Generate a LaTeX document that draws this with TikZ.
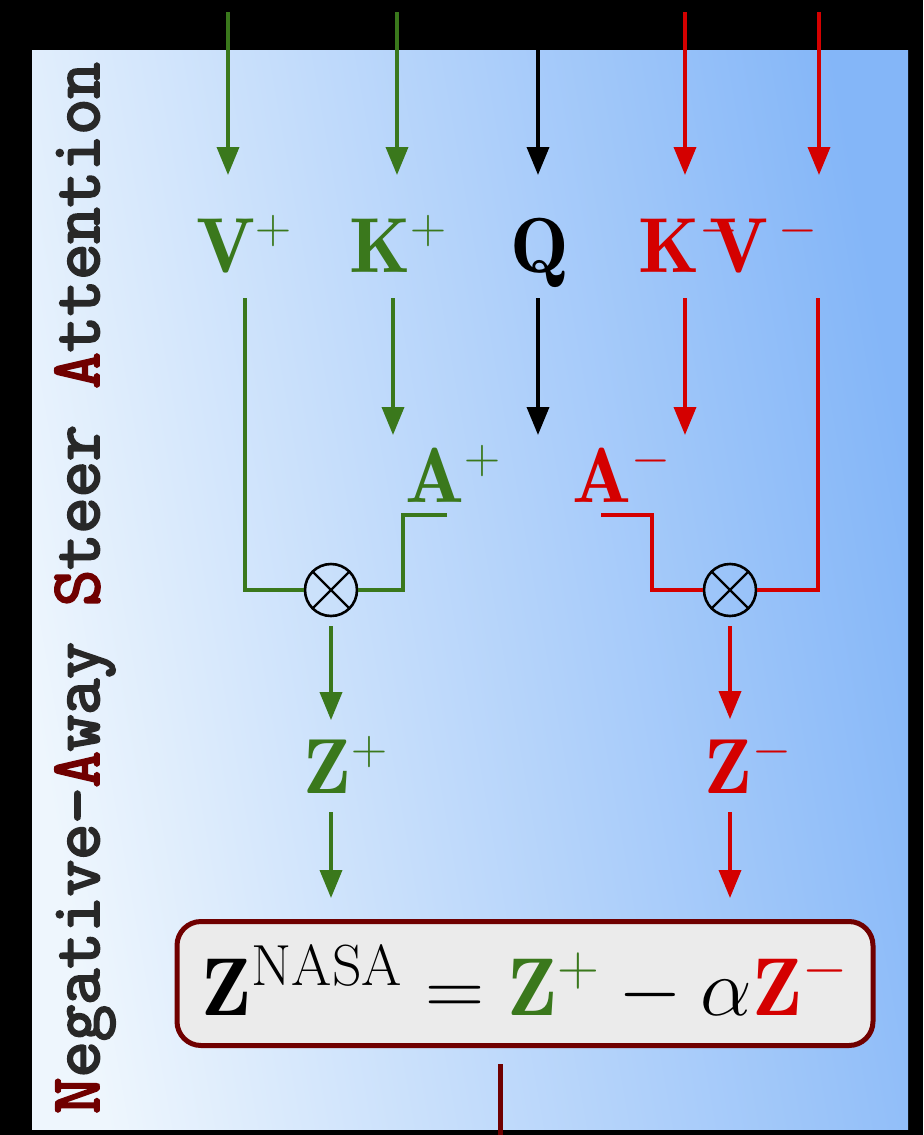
\RequirePackage{fix-cm}
\documentclass[tikz,border=0pt]{standalone}
\usepackage{amsmath}
\usepackage{fontspec}
\newfontfamily\nasaMono[FakeBold=3]{Latin Modern Mono}
\usetikzlibrary{arrows.meta,calc,positioning}
\DeclareMathSizes{39}{39}{25}{18}
\DeclareMathSizes{41}{41}{29}{21}
\definecolor{nasaGreen}{RGB}{58,120,28}
\definecolor{nasaRed}{RGB}{212,0,0}
\definecolor{nasaDark}{RGB}{112,0,0}
\definecolor{panelLight}{RGB}{238,246,253}
\definecolor{panelBlue}{RGB}{132,182,248}
\definecolor{boxFill}{RGB}{235,235,235}
\definecolor{titleGrey}{RGB}{40,40,40}
\tikzset{
  nasaLabel/.style={inner sep=0pt, anchor=base west, font=\fontsize{39}{46}\selectfont},
  nasaArrow/.style={-{Triangle[width=11pt,length=14pt]}, line width=1.8pt},
  nasaWire/.style={line width=2pt},
  nasaMult/.style={draw=black, line width=1.3pt, circle, minimum size=26pt, inner sep=0pt,
    path picture={\draw[line width=1.2pt] (path picture bounding box.north west) -- (path picture bounding box.south east)
      (path picture bounding box.north east) -- (path picture bounding box.south west);}},
  nasaBox/.style={draw=nasaDark, line width=2.5pt, fill=boxFill, rounded corners=12pt,
    minimum width=348pt, minimum height=62pt, inner sep=0pt, font=\fontsize{41}{48}\selectfont}
}

\begin{document}
\begin{tikzpicture}[x=0.5pt, y=-0.5pt]
  \useasboundingbox (0,0) rectangle (923,1135);
  \fill[black] (0,0) rectangle (923,1135);
  \shade[shading=axis, left color=panelLight, right color=panelBlue, shading angle=100] (32,50) rectangle (908,1129);

  % side title
  \node[rotate=90, font=\nasaMono\fontsize{35.2}{40}\selectfont, text=titleGrey] (title) at (85,588)
    {{\color{nasaDark}N}egative-{\color{nasaDark}A}way {\color{nasaDark}S}teer {\color{nasaDark}A}ttention};

  % incoming signals
  \foreach \name/\x/\col in {vp/228/nasaGreen, kp/397/nasaGreen, q/538/black, km/685/nasaRed, vm/819/nasaRed}{
    \coordinate (\name-in) at (\x,12);
    \coordinate (\name-tip) at (\x,175);
    \draw[nasaArrow, color=\col] (\name-in) -- (\name-tip);
  }

  % inputs
  \node[nasaLabel, text=nasaGreen] (vPlus) at (196,272) {$\mathbf{V}^{+}$};
  \node[nasaLabel, text=nasaGreen] (kPlus) at (349,272) {$\mathbf{K}^{+}$};
  \node[nasaLabel] (query) at (510,272) {$\mathbf{Q}$};
  \node[nasaLabel, text=nasaRed] (kvMinus) at (638,272) {$\mathbf{K}^{-}\kern-15pt\mathbf{V}^{\kern5pt-}$};

  % attention maps
  \foreach \name/\x/\col in {kp/393/nasaGreen, q/538/black, km/685/nasaRed}{
    \coordinate (\name-out) at (\x,298);
    \coordinate (\name-att) at (\x,435);
    \draw[nasaArrow, color=\col] (\name-out) -- (\name-att);
  }
  \node[nasaLabel, text=nasaGreen] (aPlus) at (405,502) {$\mathbf{A}^{+}$};
  \node[nasaLabel, text=nasaRed] (aMinus) at (572,502) {$\mathbf{A}^{-}$};

  % products
  \node[nasaMult] (multPlus) at (331,590) {};
  \node[nasaMult] (multMinus) at (730,590) {};
  \coordinate (vp-out) at (245,298);
  \coordinate (vm-out) at (818,298);
  \coordinate (ap-out) at (447,515);
  \coordinate (am-out) at (601,515);
  \draw[nasaWire, nasaGreen] (vp-out) |- (multPlus.west);
  \draw[nasaWire, nasaRed] (vm-out) |- (multMinus.east);
  \draw[nasaWire, nasaGreen] (ap-out) -- ++(-44,0) |- (multPlus.east);
  \draw[nasaWire, nasaRed] (am-out) -- ++(51,0) |- (multMinus.west);

  % outputs
  \node[nasaLabel, text=nasaGreen] (zPlus) at (303,793) {$\mathbf{Z}^{+}$};
  \node[nasaLabel, text=nasaRed] (zMinus) at (704,793) {$\mathbf{Z}^{-}$};
  \node[nasaBox] (nasaOut) at (525,983.5)
    {$\mathbf{Z}^{\mathrm{NASA}} = {\color{nasaGreen}\mathbf{Z}^{+}} - \alpha{\color{nasaRed}\mathbf{Z}^{-}}$};

  \draw[nasaArrow, nasaGreen, shorten <=4.5pt, shorten >=8pt] (multPlus.south) -- (multPlus |- zPlus.north);
  \draw[nasaArrow, nasaRed, shorten <=4.5pt, shorten >=8pt] (multMinus.south) -- (multMinus |- zMinus.north);
  \draw[nasaArrow, nasaGreen, shorten <=9.5pt, shorten >=10.5pt] (multPlus |- zPlus.south) -- (multPlus |- nasaOut.north);
  \draw[nasaArrow, nasaRed, shorten <=9.5pt, shorten >=10.5pt] (multMinus |- zMinus.south) -- (multMinus |- nasaOut.north);

  \coordinate (out-end) at (500,1135);
  \draw[nasaWire, nasaDark, line width=2.5pt, shorten <=8pt] (nasaOut.south -| out-end) -- (out-end);
\end{tikzpicture}
\end{document}
